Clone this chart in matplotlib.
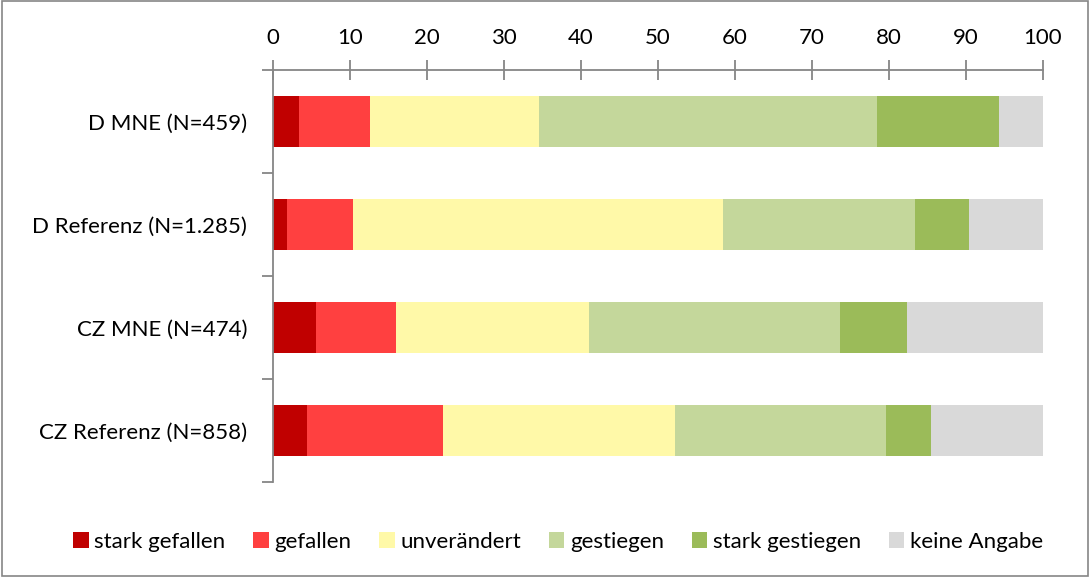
import numpy as np
import matplotlib.pyplot as plt
from matplotlib.patches import Rectangle

plt.rcParams['font.family'] = ['Lato', 'DejaVu Sans']

GROUPS = ["D MNE (N=459)", "D Referenz (N=1.285)", "CZ MNE (N=474)", "CZ Referenz (N=858)"]
SERIES = ["stark gefallen", "gefallen", "unverändert", "gestiegen", "stark gestiegen", "keine Angabe"]
COLORS = ["#c00000", "#ff4040", "#fff9a8", "#c4d79b", "#9bbb59", "#d9d9d9"]

stark_gefallen = [3.4, 1.8, 5.6, 4.4]
gefallen = [9.2, 8.6, 10.4, 17.7]
unveraendert = [22.0, 48.0, 25.1, 30.1]
gestiegen = [43.8, 25.0, 32.5, 27.4]
stark_gestiegen = [15.9, 7.0, 8.8, 5.8]
keine_angabe = [5.7, 9.6, 17.6, 14.6]

values = [stark_gefallen, gefallen, unveraendert, gestiegen, stark_gestiegen, keine_angabe]
AXIS_GRAY = "#868686"

fig = plt.figure(figsize=(10.9, 5.77), dpi=100)
ax = fig.add_axes([273 / 1090, 1 - 482 / 577, 770 / 1090, 412 / 577])

y = np.arange(len(GROUPS))
left = np.zeros(len(GROUPS))
for name, vals, col in zip(SERIES, values, COLORS):
    ax.barh(y, vals, left=left, height=0.5, color=col, label=name, edgecolor="none")
    left += np.array(vals)

ax.set_xlim(0, 100)
ax.set_ylim(3.5, -0.5)
ax.set_xticks(np.arange(0, 101, 10))
ax.xaxis.tick_top()
ax.tick_params(axis="x", direction="inout", length=14, width=1.3, color=AXIS_GRAY,
               labelsize=16, pad=9)
# category ticks sit between groups
ax.set_yticks(np.arange(-0.5, 4, 1))
ax.set_yticklabels([])
ax.set_yticks(y, minor=True)
ax.set_yticklabels(GROUPS, minor=True)
ax.tick_params(axis="y", which="major", direction="out", length=8, width=1.3, color=AXIS_GRAY)
ax.tick_params(axis="y", which="minor", length=0, labelsize=16, pad=18.5)

for s in ["right", "bottom"]:
    ax.spines[s].set_visible(False)
for s in ["top", "left"]:
    ax.spines[s].set_color(AXIS_GRAY)
    ax.spines[s].set_linewidth(1.3)

ax.legend(loc="center", bbox_to_anchor=(558 / 1090, 1 - 542 / 577),
          bbox_transform=fig.transFigure, ncol=6, frameon=False, fontsize=16,
          handlelength=0.7, handleheight=0.7, handletextpad=0.25, columnspacing=1.25)

fig.patches.append(Rectangle((0.002, 0.002), 0.996, 0.996, transform=fig.transFigure,
                             fill=False, edgecolor=AXIS_GRAY, linewidth=1.2))

fig.savefig("out.png", dpi=100)
